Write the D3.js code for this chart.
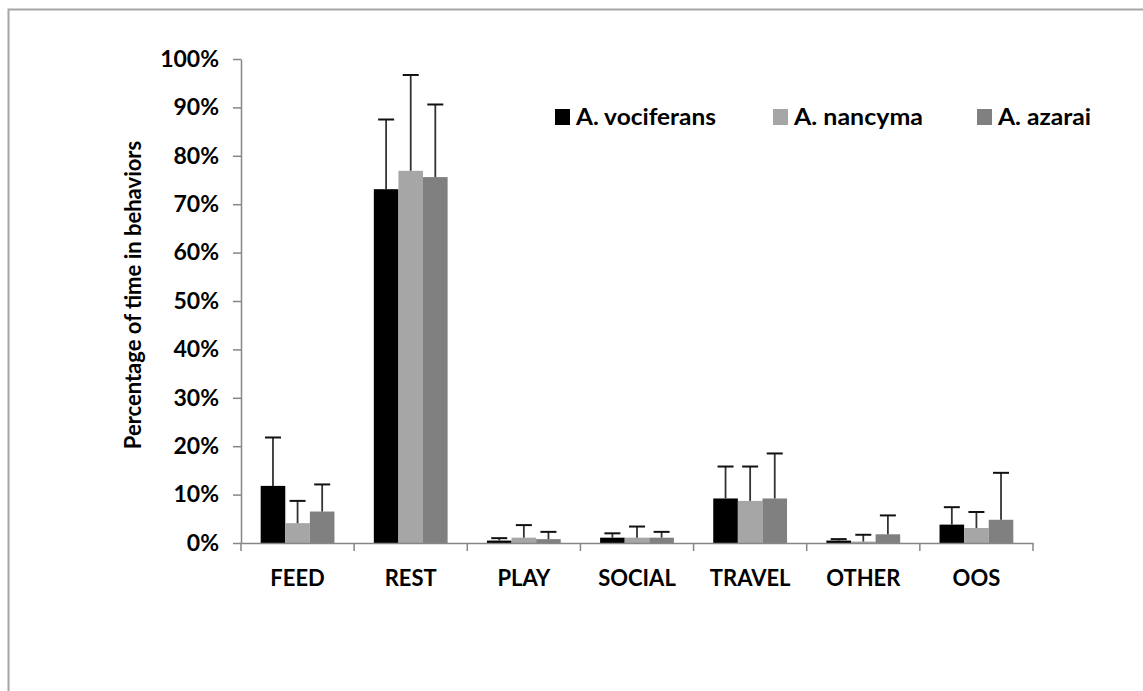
<!DOCTYPE html>
<html>
<head>
<meta charset="utf-8">
<script src="https://cdn.jsdelivr.net/npm/d3@7"></script>
<style>
  html, body { margin: 0; padding: 0; background: #fff; }
  svg { display: block; }
  text { font-family: Lato, "Open Sans", sans-serif; font-weight: 700; fill: #000; }
</style>
</head>
<body>
<div id="chart"></div>
<script>
// behaviours on the x axis
const categories = ["FEED", "REST", "PLAY", "SOCIAL", "TRAVEL", "OTHER", "OOS"];
const seriesNames = ["A. vociferans", "A. nancyma", "A. azarai"];

// mean share of time, per species (same order as categories)
const vociferans = [0.118, 0.731, 0.005, 0.011, 0.092, 0.005, 0.038];
const nancyma    = [0.041, 0.769, 0.011, 0.011, 0.087, 0.003, 0.031];
const azarai     = [0.065, 0.756, 0.008, 0.011, 0.092, 0.018, 0.048];

// plus error (sd), read as top of whisker minus bar height
const vociferansErr = [0.100, 0.144, 0.005, 0.009, 0.066, 0.003, 0.036];
const nancymaErr    = [0.046, 0.198, 0.026, 0.023, 0.071, 0.014, 0.033];
const azaraiErr     = [0.056, 0.150, 0.015, 0.012, 0.093, 0.039, 0.097];

const yTicks = [0, 0.1, 0.2, 0.3, 0.4, 0.5, 0.6, 0.7, 0.8, 0.9, 1.0];

const colors = ["#000000", "#a6a6a6", "#808080"];
const means = [vociferans, nancyma, azarai];
const errs = [vociferansErr, nancymaErr, azaraiErr];

const W = 1143, H = 691;
const plot = {left: 241, right: 1033, top: 59, bottom: 543};

const svg = d3.select("#chart").append("svg")
    .attr("width", W)
    .attr("height", H);

// chart area frame (only top and left edges are inside the picture)
svg.append("rect")
    .attr("x", 8.5).attr("y", 9.5)
    .attr("width", 1400).attr("height", 900)
    .attr("fill", "#fff")
    .attr("stroke", "#a5a5a5")
    .attr("stroke-width", 2);

const x0 = d3.scaleBand()
    .domain(categories)
    .range([plot.left, plot.right])
    .paddingInner(0)
    .paddingOuter(0);

const x1 = d3.scaleBand()
    .domain(seriesNames)
    .range([0, x0.bandwidth()])
    .paddingInner(0)
    .paddingOuter(0.8);

const y = d3.scaleLinear()
    .domain([0, 1])
    .range([plot.bottom, plot.top]);

// Y axis
const yAxis = svg.append("g")
    .attr("transform", `translate(${plot.left},0)`)
    .call(d3.axisLeft(y).tickValues(yTicks).tickFormat(d3.format(".0%")).tickSize(8).tickPadding(14).tickSizeOuter(0));
yAxis.select(".domain").attr("stroke", "#868686").attr("stroke-width", 1.5);
yAxis.selectAll(".tick line").attr("stroke", "#868686").attr("stroke-width", 1.5);
yAxis.selectAll(".tick text")
    .style("font-size", "23px")
    .style("font-family", "Lato, sans-serif")
    .attr("fill", "#000");

// Y title
svg.append("text")
    .attr("transform", `translate(133,295) rotate(-90)`)
    .attr("text-anchor", "middle")
    .attr("dy", "0.35em")
    .style("font-size", "22px")
    .text("Percentage of time in behaviors");

// bars
const groups = svg.append("g").selectAll("g")
    .data(categories)
    .join("g")
    .attr("transform", d => `translate(${x0(d)},0)`);

groups.selectAll("rect")
    .data((c, i) => seriesNames.map((s, k) => ({s, k, v: means[k][i], e: errs[k][i]})))
    .join("rect")
    .attr("x", d => x1(d.s))
    .attr("width", x1.bandwidth())
    .attr("y", d => y(d.v))
    .attr("height", d => y(0) - y(d.v))
    .attr("fill", d => colors[d.k]);

// error bars (plus direction only)
const eb = groups.selectAll("g.err")
    .data((c, i) => seriesNames.map((s, k) => ({s, k, v: means[k][i], e: errs[k][i]})))
    .join("g")
    .attr("class", "err");
eb.append("line")
    .attr("x1", d => x1(d.s) + x1.bandwidth() / 2)
    .attr("x2", d => x1(d.s) + x1.bandwidth() / 2)
    .attr("y1", d => y(d.v))
    .attr("y2", d => y(d.v + d.e))
    .attr("stroke", "#333")
    .attr("stroke-width", 1.8);
eb.append("line")
    .attr("x1", d => x1(d.s) + x1.bandwidth() / 2 - 8)
    .attr("x2", d => x1(d.s) + x1.bandwidth() / 2 + 8)
    .attr("y1", d => y(d.v + d.e))
    .attr("y2", d => y(d.v + d.e))
    .attr("stroke", "#111")
    .attr("stroke-width", 2);

// X axis
const xAxis = svg.append("g")
    .attr("transform", `translate(0,${plot.bottom})`)
    .call(d3.axisBottom(x0).tickSize(0).tickPadding(0).tickSizeOuter(0));
xAxis.select(".domain").attr("stroke", "#868686").attr("stroke-width", 1.5);
xAxis.selectAll(".tick text")
    .attr("y", 35)
    .attr("dy", "0.35em")
    .style("font-size", "22px")
    .style("font-family", "Lato, sans-serif")
    .attr("fill", "#000");

// category boundary ticks
const bounds = categories.map(c => x0(c)).concat([x0.range()[1]]);
xAxis.selectAll("line.bound")
    .data(bounds)
    .join("line")
    .attr("class", "bound")
    .attr("x1", d => d).attr("x2", d => d)
    .attr("y1", 0).attr("y2", 8)
    .attr("stroke", "#868686")
    .attr("stroke-width", 1.5);

// legend
const legendX = [555, 773, 977];
const legendW = [140, 129, 93];
const legend = svg.append("g").selectAll("g")
    .data(seriesNames)
    .join("g")
    .attr("transform", (d, i) => `translate(${legendX[i]},117)`);
legend.append("rect")
    .attr("x", 0).attr("y", -8)
    .attr("width", 15).attr("height", 16)
    .attr("fill", (d, i) => colors[i]);
legend.append("text")
    .attr("x", 21)
    .attr("dy", "0.35em")
    .attr("textLength", (d, i) => legendW[i])
    .attr("lengthAdjust", "spacingAndGlyphs")
    .style("font-size", "22px")
    .text(d => d);
</script>
</body>
</html>
